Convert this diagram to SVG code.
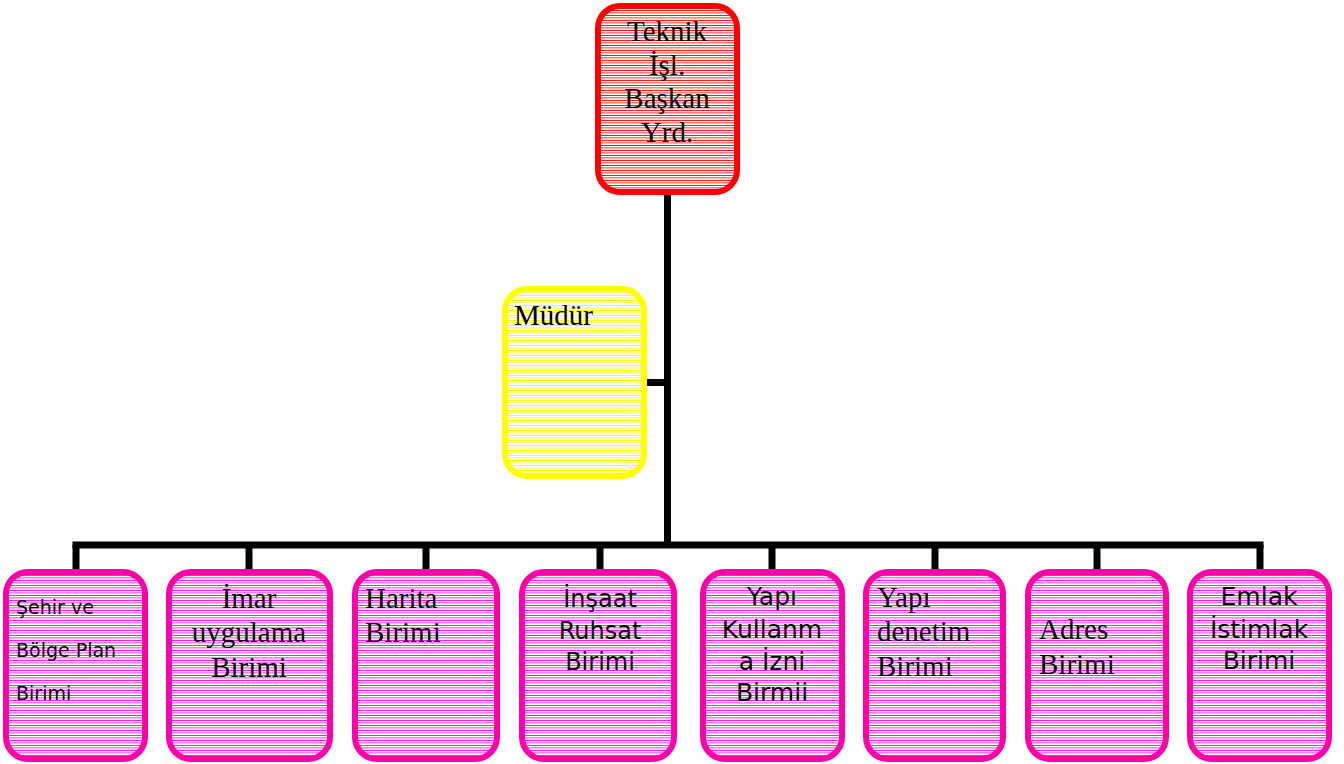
<svg xmlns="http://www.w3.org/2000/svg" width="1344" height="764" viewBox="0 0 1344 764">
<defs>
<pattern id="pRed" patternUnits="userSpaceOnUse" width="10" height="2.5"><rect width="10" height="2.5" fill="#fff"/><rect width="10" height="1" fill="#FF0000" shape-rendering="crispEdges"/></pattern>
<pattern id="pYel" patternUnits="userSpaceOnUse" width="10" height="2.5"><rect width="10" height="2.5" fill="#fff"/><rect width="10" height="1" fill="#FFFF00" shape-rendering="crispEdges"/></pattern>
<pattern id="pMag" patternUnits="userSpaceOnUse" width="10" height="2.5"><rect width="10" height="2.5" fill="#fff"/><rect width="10" height="1" fill="#FF00FF" shape-rendering="crispEdges"/></pattern>
</defs>
<style>
.box{stroke-width:6}
.red{fill:url(#pRed);stroke:#FF0000}
.yel{fill:url(#pYel);stroke:#FFFF00}
.mag{fill:url(#pMag);stroke:#FF00A8}
.serif{font-family:"Liberation Serif","Times New Roman",serif;font-size:29px;fill:#000}
.sans{font-family:"DejaVu Sans",Verdana,sans-serif;fill:#000}
.c{text-anchor:middle}
.conn{stroke:#000;stroke-width:7;fill:none}
</style>
<rect width="1344" height="764" fill="#fff"/>
<g id="connectors">
<line class="conn" x1="667.5" y1="193" x2="667.5" y2="545"/>
<line class="conn" x1="645" y1="382.5" x2="667.5" y2="382.5"/>
<line class="conn" x1="72.5" y1="545" x2="1263.5" y2="545"/>
<line class="conn" x1="76" y1="545" x2="76" y2="571"/>
<line class="conn" x1="249" y1="545" x2="249" y2="571"/>
<line class="conn" x1="426" y1="545" x2="426" y2="571"/>
<line class="conn" x1="600" y1="545" x2="600" y2="571"/>
<line class="conn" x1="772" y1="545" x2="772" y2="571"/>
<line class="conn" x1="935" y1="545" x2="935" y2="571"/>
<line class="conn" x1="1097" y1="545" x2="1097" y2="571"/>
<line class="conn" x1="1260" y1="545" x2="1260" y2="571"/>
</g>
<g id="n-teknik">
<rect class="box red" x="598" y="6" width="139" height="186" rx="22"/>
<text class="serif c" x="667" y="41">Teknik</text>
<text class="serif c" x="667" y="75">İşl.</text>
<text class="serif c" x="667" y="108">Başkan</text>
<text class="serif c" x="667" y="142">Yrd.</text>
</g>
<g id="n-mudur">
<rect class="box yel" x="505" y="289" width="139" height="187" rx="22"/>
<text class="serif" x="514" y="325">Müdür</text>
</g>
<g id="n-sehir">
<rect class="box mag" x="6" y="572" width="139" height="187" rx="22"/>
<text class="sans" font-size="19" x="16" y="614">Şehir ve</text>
<text class="sans" font-size="19" x="16" y="657">Bölge Plan</text>
<text class="sans" font-size="19" x="16" y="700">Birimi</text>
</g>
<g id="n-imar">
<rect class="box mag" x="169" y="572" width="161" height="187" rx="22"/>
<text class="serif c" x="249" y="608">İmar</text>
<text class="serif c" x="249" y="642">uygulama</text>
<text class="serif c" x="249" y="677">Birimi</text>
</g>
<g id="n-harita">
<rect class="box mag" x="355" y="572" width="142" height="187" rx="22"/>
<text class="serif" x="365" y="608">Harita</text>
<text class="serif" x="365" y="642">Birimi</text>
</g>
<g id="n-insaat">
<rect class="box mag" x="522" y="572" width="152" height="187" rx="22"/>
<text class="sans c" font-size="24" x="600" y="607">İnşaat</text>
<text class="sans c" font-size="24" x="600" y="639">Ruhsat</text>
<text class="sans c" font-size="24" x="600" y="670">Birimi</text>
</g>
<g id="n-yapikullanma">
<rect class="box mag" x="703" y="572" width="139" height="187" rx="22"/>
<text class="sans c" font-size="25" x="772" y="605">Yapı</text>
<text class="sans c" font-size="25" x="772" y="638">Kullanm</text>
<text class="sans c" font-size="25" x="772" y="670">a İzni</text>
<text class="sans c" font-size="25" x="772" y="701">Birmii</text>
</g>
<g id="n-yapidenetim">
<rect class="box mag" x="866" y="572" width="137" height="187" rx="22"/>
<text class="serif" x="877" y="607">Yapı</text>
<text class="serif" x="877" y="641">denetim</text>
<text class="serif" x="877" y="676">Birimi</text>
</g>
<g id="n-adres">
<rect class="box mag" x="1028" y="572" width="138" height="187" rx="22"/>
<text class="serif" x="1039" y="639">Adres</text>
<text class="serif" x="1039" y="674">Birimi</text>
</g>
<g id="n-emlak">
<rect class="box mag" x="1190" y="572" width="139" height="187" rx="22"/>
<text class="sans c" font-size="25" x="1259" y="605">Emlak</text>
<text class="sans c" font-size="25" x="1259" y="638">İstimlak</text>
<text class="sans c" font-size="25" x="1259" y="669">Birimi</text>
</g>
</svg>
